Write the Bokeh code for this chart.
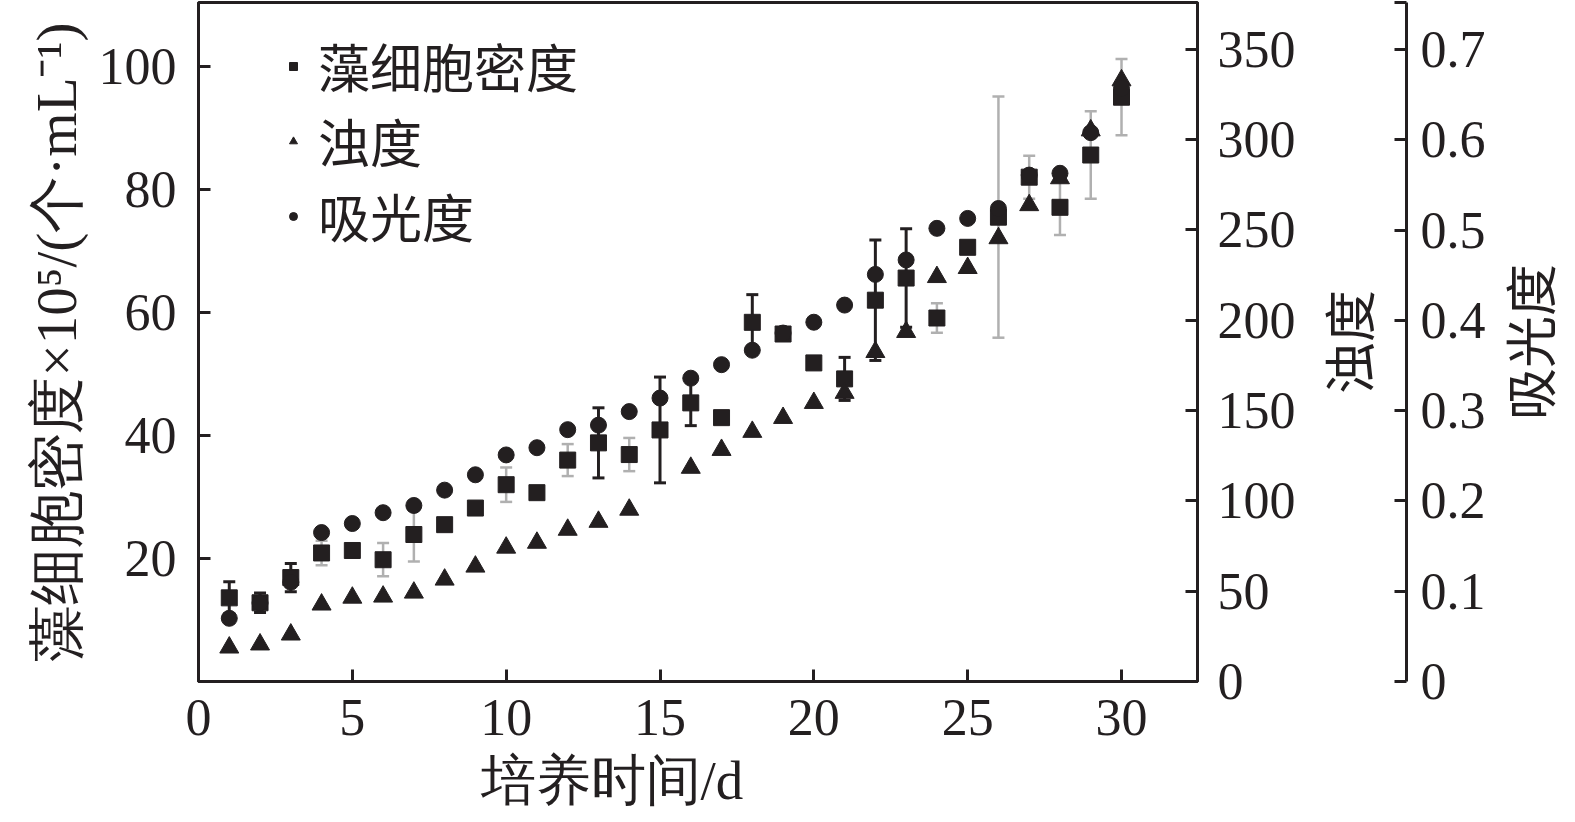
import math
import numpy as np
from bokeh.plotting import figure
from bokeh.layouts import row
from bokeh.core.properties import value
from bokeh.models import (ColumnDataSource, LinearAxis, Range1d, FixedTicker,
                          Whisker, TeeHead, Legend, LegendItem, Title)
from bokeh.embed import file_html
from bokeh.resources import INLINE

# ---------------- data ----------------
days = list(range(1, 31))
# 藻细胞密度 ×10^5 个/mL (left axis)
cell_density = [13.6, 12.8, 16.9, 20.9, 21.3, 19.8, 23.9, 25.5, 28.2, 32.0,
                30.7, 36.0, 38.8, 36.9, 40.9, 45.3, 42.9, 58.4, 56.5, 51.8,
                49.2, 62.0, 65.6, 59.1, 70.6, 75.5, 82.0, 77.1, 85.6, 95.0]
cell_density_err = [2.6, 1.6, 2.3, 2.0, 0.5, 2.7, 4.4, 1.0, 1.0, 2.8,
                    0.5, 2.6, 5.7, 2.7, 8.6, 3.7, 1.0, 4.5, 1.0, 0.5,
                    3.5, 9.8, 8.0, 2.4, 1.0, 19.6, 3.5, 4.5, 7.1, 6.2]
# 浊度 (first right axis); day 15 not visible in the figure
turbidity = [18.8, 20.5, 26.0, 42.6, 46.4, 47.0, 49.2, 56.4, 63.6, 74.1,
             76.8, 84.0, 88.4, 95.1, float("nan"), 118.3, 128.2, 138.2, 145.9, 154.2,
             159.8, 182.4, 193.5, 223.9, 228.9, 245.4, 263.7, 278.6, 305.1, 332.8]
# 吸光度 (second right axis)
absorbance = [0.070, 0.087, 0.110, 0.165, 0.175, 0.187, 0.195, 0.212, 0.229, 0.251,
              0.259, 0.279, 0.284, 0.299, 0.314, 0.336, 0.351, 0.367, 0.386, 0.398,
              0.417, 0.451, 0.467, 0.502, 0.513, 0.524, 0.561, 0.563, 0.608, 0.657]

x_ticks = [0, 5, 10, 15, 20, 25, 30]
left_ticks = [20, 40, 60, 80, 100]
turb_ticks = [0, 50, 100, 150, 200, 250, 300, 350]
abs_ticks = [0, 0.1, 0.2, 0.3, 0.4, 0.5, 0.6, 0.7]
abs_tick_labels = ["0", "0.1", "0.2", "0.3", "0.4", "0.5", "0.6", "0.7"]

series_names = ["藻细胞密度", "浊度", "吸光度"]
left_title = "藻细胞密度×10⁵/(个·mL⁻¹)"
x_title = "培养时间/d"

# style: which days have light-grey error bars
grey_err_days = [4, 5, 6, 7, 8, 9, 10, 11, 12, 14, 17, 19, 20, 24, 25, 26, 27, 28, 29, 30]

# ---------------- ranges ----------------
X_END = 32.47
LEFT_END = 110.4
TURB_END = 375.9
ABS_END = 0.7522

INK = "#231f20"
GREY = "#b0b0b0"
SERIF = "Liberation Serif"
CJK = "Noto Sans CJK SC"
H = 820
BORDER_TOP = 2
BORDER_BOTTOM = 138


def style_axis(ax, size="52px"):
    ax.axis_line_color = INK
    ax.axis_line_width = 3
    ax.major_tick_line_color = INK
    ax.major_tick_line_width = 3
    ax.major_tick_in = 12
    ax.major_tick_out = 0
    ax.minor_tick_line_color = None
    ax.major_label_text_font = SERIF
    ax.major_label_text_font_size = size
    ax.major_label_text_color = INK
    ax.axis_label_text_color = INK
    ax.axis_label_text_font_style = "normal"


def blank_fig(width, left, right, y_range, y_loc=None):
    f = figure(width=width, height=H, output_backend="svg", toolbar_location=None,
               x_range=Range1d(0, 1), y_range=y_range,
               x_axis_location=None, y_axis_location=y_loc,
               min_border_left=left, min_border_right=right,
               min_border_top=BORDER_TOP, min_border_bottom=BORDER_BOTTOM)
    f.grid.visible = False
    f.outline_line_color = None
    f.background_fill_color = "white"
    f.border_fill_color = "white"
    return f


# ================= main plot =================
p = figure(width=1300, height=H, output_backend="svg", toolbar_location=None,
           x_range=Range1d(0, X_END), y_range=Range1d(0, LEFT_END),
           min_border_left=198, min_border_right=103, min_border_top=BORDER_TOP,
           min_border_bottom=BORDER_BOTTOM)
p.extra_y_ranges = {"turb": Range1d(0, TURB_END), "abs": Range1d(0, ABS_END)}
p.grid.visible = False
p.outline_line_color = INK
p.outline_line_width = 3
p.background_fill_color = "white"
p.border_fill_color = "white"

xa = p.xaxis[0]
style_axis(xa)
xa.ticker = FixedTicker(ticks=x_ticks)
xa.major_label_standoff = 18

ya = p.yaxis[0]
style_axis(ya)
ya.ticker = FixedTicker(ticks=left_ticks)
ya.major_label_standoff = 22
ya.axis_label = left_title
ya.axis_label_text_font = SERIF
ya.axis_label_text_font_size = "57px"
ya.axis_label_standoff = 8

turb_axis = LinearAxis(y_range_name="turb", ticker=FixedTicker(ticks=turb_ticks))
style_axis(turb_axis)
turb_axis.major_label_standoff = 20
p.add_layout(turb_axis, "right")

# error bars of the cell density
dark_idx = [i for i, d in enumerate(days) if d not in grey_err_days]
grey_idx = [i for i, d in enumerate(days) if d in grey_err_days]


def err_source(idx):
    return ColumnDataSource(dict(
        x=[days[i] for i in idx],
        lower=[cell_density[i] - cell_density_err[i] for i in idx],
        upper=[cell_density[i] + cell_density_err[i] for i in idx]))


for idx, col, lw in ((grey_idx, GREY, 2.5), (dark_idx, INK, 3)):
    w = Whisker(source=err_source(idx), base="x", lower="lower", upper="upper",
                line_color=col, line_width=lw, level="underlay",
                upper_head=TeeHead(size=12, line_color=col, line_width=lw),
                lower_head=TeeHead(size=12, line_color=col, line_width=lw))
    p.add_layout(w)

# markers
src = ColumnDataSource(dict(day=days, cell=cell_density, turb=turbidity, ab=absorbance))
r_sq = p.scatter("day", "cell", source=src, marker="square", size=16,
                 fill_color=INK, line_color=INK)
r_tri = p.scatter("day", "turb", source=src, marker="triangle", size=19,
                  fill_color=INK, line_color=INK, y_range_name="turb")
r_cir = p.scatter("day", "ab", source=src, marker="circle", size=16,
                  fill_color=INK, line_color=INK, y_range_name="abs")

legend = Legend(items=[LegendItem(label=series_names[0], renderers=[r_sq]),
                       LegendItem(label=series_names[1], renderers=[r_tri]),
                       LegendItem(label=series_names[2], renderers=[r_cir])],
                location=(85, 428))
legend.border_line_color = None
legend.background_fill_alpha = 0
legend.label_text_font = CJK
legend.label_text_font_size = "52px"
legend.label_text_color = INK
legend.glyph_width = 20
legend.glyph_height = 20
legend.label_standoff = 15
legend.spacing = -6
legend.padding = 0
legend.margin = 0
p.add_layout(legend)

xtitle = Title(text=x_title, align="left", offset=282, standoff=20,
               text_font=SERIF, text_font_size="55px", text_color=INK,
               text_font_style="normal")
p.add_layout(xtitle, "below")

# ================= 浊度 title + 吸光度 axis =================
p2 = blank_fig(188, 0, 82, Range1d(0, ABS_END), y_loc="right")
aa = p2.yaxis[0]
style_axis(aa)
aa.ticker = FixedTicker(ticks=abs_ticks + [ABS_END])
aa.major_label_overrides = {**{t: s for t, s in zip(abs_ticks, abs_tick_labels)}, ABS_END: ""}
aa.major_label_standoff = 14
p2.text(x=[0.44], y=[ABS_END / 2], text=[series_names[1]], angle=math.pi / 2,
        text_align="center", text_baseline="middle", text_font=value(CJK),
        text_font_size="52px", text_color=INK)

# ================= 吸光度 title =================
p3 = blank_fig(87, 0, 0, Range1d(0, ABS_END))
p3.add_layout(Title(text=series_names[2], align="center", standoff=0,
                    text_font=CJK, text_font_size="52px", text_color=INK,
                    text_font_style="normal"), "left")

layout = row(p, p2, p3, spacing=0)
open("out.html", "w").write(file_html(layout, INLINE))
